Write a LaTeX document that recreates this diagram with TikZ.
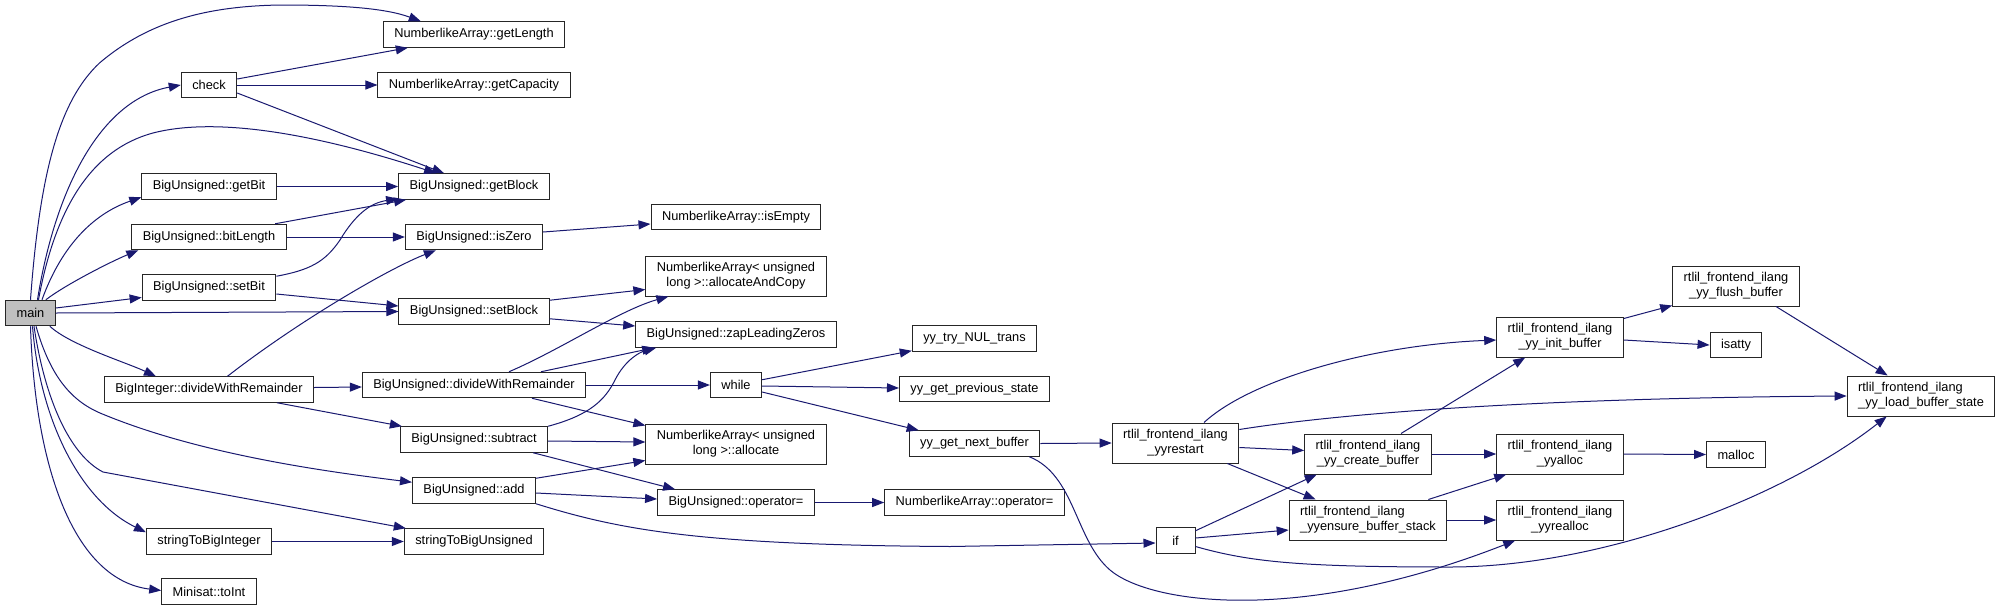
\documentclass[tikz,border=0pt]{standalone}
\usepackage{fontspec}
\setmainfont{Liberation Sans}
\usetikzlibrary{arrows.meta,calc}
\definecolor{calledge}{HTML}{191970}

\begin{document}
\begin{tikzpicture}[x=1pt,y=1pt,>={Triangle[length=12pt,width=9pt]},
  fnbox/.style={draw=black!85,fill=white,line width=1pt,inner xsep=11pt,inner ysep=2pt,
    minimum height=25.5pt,font=\fontsize{12.8}{15}\selectfont},
  fnbox2/.style={fnbox,minimum height=40pt,align=center},
  callline/.style={->,draw=calledge,line width=1pt}]
\useasboundingbox (0,0) rectangle (2000,-611);
\fill[white] (0,0) rectangle (2000,-611);

\node[fnbox,fill=black!25] (main) at (30.5,-313) {main};
\node[fnbox] (check) at (209,-85) {check};
\node[fnbox] (getBit) at (209,-186.5) {BigUnsigned::getBit};
\node[fnbox] (bitLength) at (209,-237) {BigUnsigned::bitLength};
\node[fnbox] (setBit) at (209,-287.5) {BigUnsigned::setBit};
\node[fnbox] (bigIntDiv) at (209,-389.5) {BigInteger::divideWithRemainder};
\node[fnbox] (strToInt) at (209,-541.5) {stringToBigInteger};
\node[fnbox] (toInt) at (209,-591.5) {Minisat::toInt};

\node[fnbox] (getLength) at (474,-34.5) {NumberlikeArray::getLength};
\node[fnbox] (getCapacity) at (474,-85) {NumberlikeArray::getCapacity};
\node[fnbox] (getBlock) at (474,-186.5) {BigUnsigned::getBlock};
\node[fnbox] (isZero) at (474,-237) {BigUnsigned::isZero};
\node[fnbox] (setBlock) at (474,-311.5) {BigUnsigned::setBlock};
\node[fnbox] (bigUnsDiv) at (474,-385) {BigUnsigned::divideWithRemainder};
\node[fnbox] (subtract) at (474,-439.5) {BigUnsigned::subtract};
\node[fnbox] (addFn) at (474,-490.5) {BigUnsigned::add};
\node[fnbox] (strToUns) at (474,-541.5) {stringToBigUnsigned};

\node[fnbox] (isEmpty) at (736,-217) {NumberlikeArray::isEmpty};
\node[fnbox2] (allocCopy) at (736,-276) {NumberlikeArray< unsigned\\long >::allocateAndCopy};
\node[fnbox] (zapZeros) at (736,-334.5) {BigUnsigned::zapLeadingZeros};
\node[fnbox] (whileFn) at (736,-385) {while};
\node[fnbox2] (allocate) at (736,-444) {NumberlikeArray< unsigned\\long >::allocate};
\node[fnbox] (unsAssign) at (736,-502.5) {BigUnsigned::operator=};

\node[fnbox] (tryNul) at (974.5,-338.5) {yy\_try\_NUL\_trans};
\node[fnbox] (prevState) at (974.5,-389) {yy\_get\_previous\_state};
\node[fnbox] (nextBuf) at (974.5,-443.5) {yy\_get\_next\_buffer};
\node[fnbox] (arrAssign) at (974.5,-502.5) {NumberlikeArray::operator=};

\node[fnbox2] (restart) at (1175.5,-443) {rtlil\_frontend\_ilang\\\_yyrestart};
\node[fnbox,minimum width=39pt] (ifFn) at (1175.5,-540.5) {if};
\node[fnbox2] (createBuf) at (1368,-454) {rtlil\_frontend\_ilang\\\_yy\_create\_buffer};
\node[fnbox2,align=left] (ensureStack) at (1368,-520) {rtlil\_frontend\_ilang\\\_yyensure\_buffer\_stack};
\node[fnbox2] (initBuf) at (1560,-337) {rtlil\_frontend\_ilang\\\_yy\_init\_buffer};
\node[fnbox2] (yyalloc) at (1560,-454) {rtlil\_frontend\_ilang\\\_yyalloc};
\node[fnbox2] (yyrealloc) at (1560,-520) {rtlil\_frontend\_ilang\\\_yyrealloc};
\node[fnbox2] (flushBuf) at (1736,-286) {rtlil\_frontend\_ilang\\\_yy\_flush\_buffer};
\node[fnbox] (isattyFn) at (1736,-345) {isatty};
\node[fnbox] (mallocFn) at (1736,-454.5) {malloc};
\node[fnbox2,align=left] (loadState) at (1921,-396) {rtlil\_frontend\_ilang\\\_yy\_load\_buffer\_state};

\draw[callline] (main.north) .. controls (40,-170) and (60,-100) .. (99.5,-63) .. controls (150,-20) and (210,-6) .. (281,-5) .. controls (340,-5) and (385,-8) .. ($(getLength.north west)+(38,0)$);
\draw[callline] ($(main.north)+(7,0)$) .. controls (55,-190) and (100,-100) .. (check.west);
\draw[callline] ($(main.north)+(8,0)$) .. controls (55,-210) and (90,-150) .. (153,-133) .. controls (230,-113) and (350,-145) .. ($(getBlock.north west)+(38,0)$);
\draw[callline] ($(main.north)+(11.5,0)$) .. controls (60,-250) and (90,-215) .. ($(getBit.south west)+(0,2.5)$);
\draw[callline] ($(main.north east)+(-10,0)$) .. controls (65,-285) and (110,-262) .. ($(bitLength.south west)+(7,0)$);
\draw[callline] ($(main.east)+(0,5)$) -- ($(setBit.west)+(0,-10)$);
\draw[callline] (main.east) -- (setBlock.west);
\draw[callline] ($(main.south east)+(-6,0)$) .. controls (70,-345) and (125,-362) .. ($(bigIntDiv.north west)+(52,0)$);
\draw[callline] ($(main.south)+(5.5,0)$) .. controls (50,-375) and (70,-400) .. (100,-413) .. controls (200,-455) and (330,-472) .. ($(addFn.north west)+(0,-5)$);
\draw[callline] ($(main.south)+(3.5,0)$) .. controls (45,-400) and (70,-455) .. (103,-472) -- ($(strToUns.north west)+(2,0)$);
\draw[callline] ($(main.south)+(2,0)$) .. controls (40,-420) and (80,-500) .. ($(strToInt.north west)+(0,-4)$);
\draw[callline] (main.south) .. controls (35,-470) and (75,-580) .. ($(toInt.west)+(0,1)$);

\draw[callline] ($(check.east)+(0,6)$) -- ($(getLength.south west)+(25,0)$);
\draw[callline] (check.east) -- (getCapacity.west);
\draw[callline] ($(check.east)+(0,-8)$) -- ($(getBlock.north west)+(46,0)$);
\draw[callline] (getBit.east) -- (getBlock.west);
\draw[callline] ($(bitLength.north east)+(-11.5,0)$) -- ($(getBlock.south west)+(8,0)$);
\draw[callline] (bitLength.east) -- (isZero.west);
\draw[callline] ($(setBit.north east)+(0,-2)$) .. controls (310,-270) and (325,-262) .. (340,-240) .. controls (355,-215) and (370,-203) .. ($(getBlock.south west)+(0,1)$);
\draw[callline] ($(setBit.east)+(0,-6.5)$) -- ($(setBlock.west)+(0,5.5)$);
\draw[callline] ($(bigIntDiv.north)+(18.5,0)$) .. controls (300,-320) and (390,-268) .. ($(isZero.south west)+(31,0)$);
\draw[callline] ($(bigIntDiv.east)+(0,2)$) -- ($(bigUnsDiv.west)+(0,-2)$);
\draw[callline] ($(bigIntDiv.south east)+(-37,0)$) -- ($(subtract.north west)+(2,0)$);
\draw[callline] (strToInt.east) -- (strToUns.west);

\draw[callline] ($(isZero.east)+(0,5)$) -- ($(isEmpty.west)+(0,-7)$);
\draw[callline] ($(setBlock.north east)+(0,-2)$) -- ($(allocCopy.south west)+(0,7)$);
\draw[callline] ($(setBlock.south east)+(0,6)$) -- ($(zapZeros.west)+(0,8.5)$);
\draw[callline] ($(bigUnsDiv.north)+(35,0)$) .. controls (560,-350) and (620,-310) .. ($(allocCopy.south west)+(23,0)$);
\draw[callline] ($(bigUnsDiv.north)+(67,0)$) -- ($(zapZeros.south west)+(19,0)$);
\draw[callline] (bigUnsDiv.east) -- (whileFn.west);
\draw[callline] ($(bigUnsDiv.south)+(58,0)$) -- ($(allocate.north west)+(0,-2)$);
\draw[callline] (subtract.north east) .. controls (590,-415) and (605,-400) .. (615,-380) .. controls (625,-360) and (640,-352) .. ($(zapZeros.south west)+(21,0)$);
\draw[callline] ($(subtract.east)+(0,-1.5)$) -- ($(allocate.west)+(0,2)$);
\draw[callline] ($(subtract.south east)+(-15,0)$) -- ($(unsAssign.north west)+(18,0)$);
\draw[callline] ($(addFn.north east)+(0,-1)$) -- ($(allocate.south west)+(0,4)$);
\draw[callline] ($(addFn.east)+(0,-2.5)$) -- ($(unsAssign.west)+(0,3.5)$);
\draw[callline] (addFn.south east) .. controls (620,-530) and (700,-545) .. (950,-546.5) -- ($(ifFn.west)+(0,-2.5)$);

\draw[callline] (unsAssign.east) -- (arrAssign.west);
\draw[callline] ($(whileFn.north east)+(0,-8)$) -- ($(tryNul.south west)+(0,1)$);
\draw[callline] ($(whileFn.east)+(0,-1)$) -- ($(prevState.west)+(0,1)$);
\draw[callline] ($(whileFn.east)+(0,-7)$) -- ($(nextBuf.north west)+(10,0)$);
\draw[callline] (nextBuf.east) -- (restart.west);
\draw[callline] ($(nextBuf.south east)+(-11,0)$) .. controls (1075,-475) and (1075,-540) .. (1110,-570) .. controls (1150,-604) and (1300,-625) .. ($(yyrealloc.south west)+(19,0)$);

\draw[callline] ($(restart.north)+(28.5,0)$) .. controls (1250,-380) and (1370,-345) .. ($(initBuf.west)+(0,-3)$);
\draw[callline] ($(restart.north east)+(0,-7)$) .. controls (1350,-412) and (1550,-398) .. (loadState.west);
\draw[callline] ($(restart.east)+(0,-4.5)$) -- ($(createBuf.west)+(0,3.5)$);
\draw[callline] ($(restart.south east)+(-12,0)$) -- ($(ensureStack.north west)+(27,0)$);
\draw[callline] ($(ifFn.north east)+(0,-3.5)$) -- ($(createBuf.south west)+(12.5,0)$);
\draw[callline] ($(ifFn.east)+(0,2.5)$) -- ($(ensureStack.west)+(0,-10)$);
\draw[callline] ($(ifFn.east)+(0,-6)$) .. controls (1250,-562) and (1300,-567) .. (1450,-567) .. controls (1600,-567) and (1780,-500) .. ($(loadState.south west)+(40,0)$);

\draw[callline] ($(createBuf.north)+(33,0)$) -- ($(initBuf.south west)+(29,0)$);
\draw[callline] (createBuf.east) -- (yyalloc.west);
\draw[callline] ($(ensureStack.north east)+(-19,0)$) -- ($(yyalloc.south west)+(10,0)$);
\draw[callline] (ensureStack.east) -- (yyrealloc.west);
\draw[callline] ($(initBuf.north east)+(0,-2)$) -- ($(flushBuf.south west)+(0,1)$);
\draw[callline] ($(initBuf.east)+(0,-3)$) -- (isattyFn.west);
\draw[callline] ($(flushBuf.south)+(40,0)$) -- ($(loadState.north west)+(41,0)$);
\draw[callline] (yyalloc.east) -- (mallocFn.west);
\end{tikzpicture}
\end{document}
